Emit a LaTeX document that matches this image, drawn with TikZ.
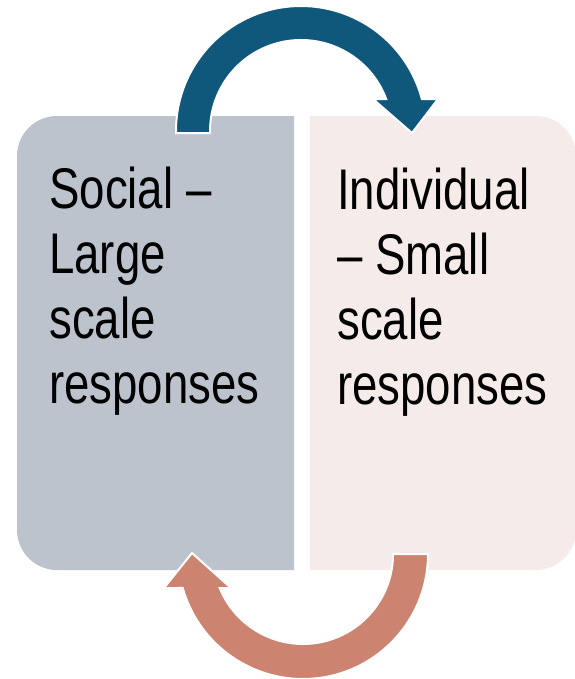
\documentclass[tikz,border=0pt]{standalone}
\usepackage{fontspec}
\setmainfont[FakeStretch=0.795]{Liberation Sans}
\definecolor{boxL}{HTML}{BCC3CD}
\definecolor{boxR}{HTML}{F5EBE9}
\definecolor{arrTop}{HTML}{0F587C}
\definecolor{arrBot}{HTML}{CC8370}
\tikzset{
  bigarrow/.style={draw=white, line width=1.5pt, line join=miter},
  boxtext/.style={anchor=base west, inner sep=0pt, font=\fontsize{43}{48.75}\selectfont}
}
\begin{document}
\begin{tikzpicture}[x=0.75pt,y=-0.75pt]
\useasboundingbox (0,0) rectangle (575,679);
% boxes
\fill[boxL] (294,116) -- (57,116) arc[start angle=270,end angle=180,radius=40]
  -- (17,530) arc[start angle=180,end angle=90,radius=40] -- (294,570) -- cycle;
\fill[boxR] (310,116) -- (536,116) arc[start angle=270,end angle=360,radius=40]
  -- (576,530) arc[start angle=0,end angle=90,radius=40] -- (310,570) -- cycle;
% texts
\node[boxtext] (social) at (49,208) {\parbox[t]{240\dimexpr0.75pt}{Social –\\Large\\scale\\responses}};
\node[boxtext] (indiv) at (337,209) {\parbox[t]{240\dimexpr0.75pt}{Individual\\– Small\\scale\\responses}};
% top arrow
\filldraw[bigarrow, fill=arrTop] (176,133) -- (176,131) arc[start angle=180,end angle=345.17,radius=125]
  -- (438,99) -- (412,133) -- (373,99) -- (386.2,99) arc[start angle=339.41,end angle=180,radius=91]
  -- (210,133) -- cycle;
% bottom arrow
\filldraw[bigarrow, fill=arrBot] (393,554) -- (428,554) arc[start angle=0,end angle=164.22,radius=125]
  -- (164,588) -- (192,553) -- (231,588) -- (219.7,588) arc[start angle=157.8,end angle=0,radius=90]
  -- cycle;
\end{tikzpicture}
\end{document}
